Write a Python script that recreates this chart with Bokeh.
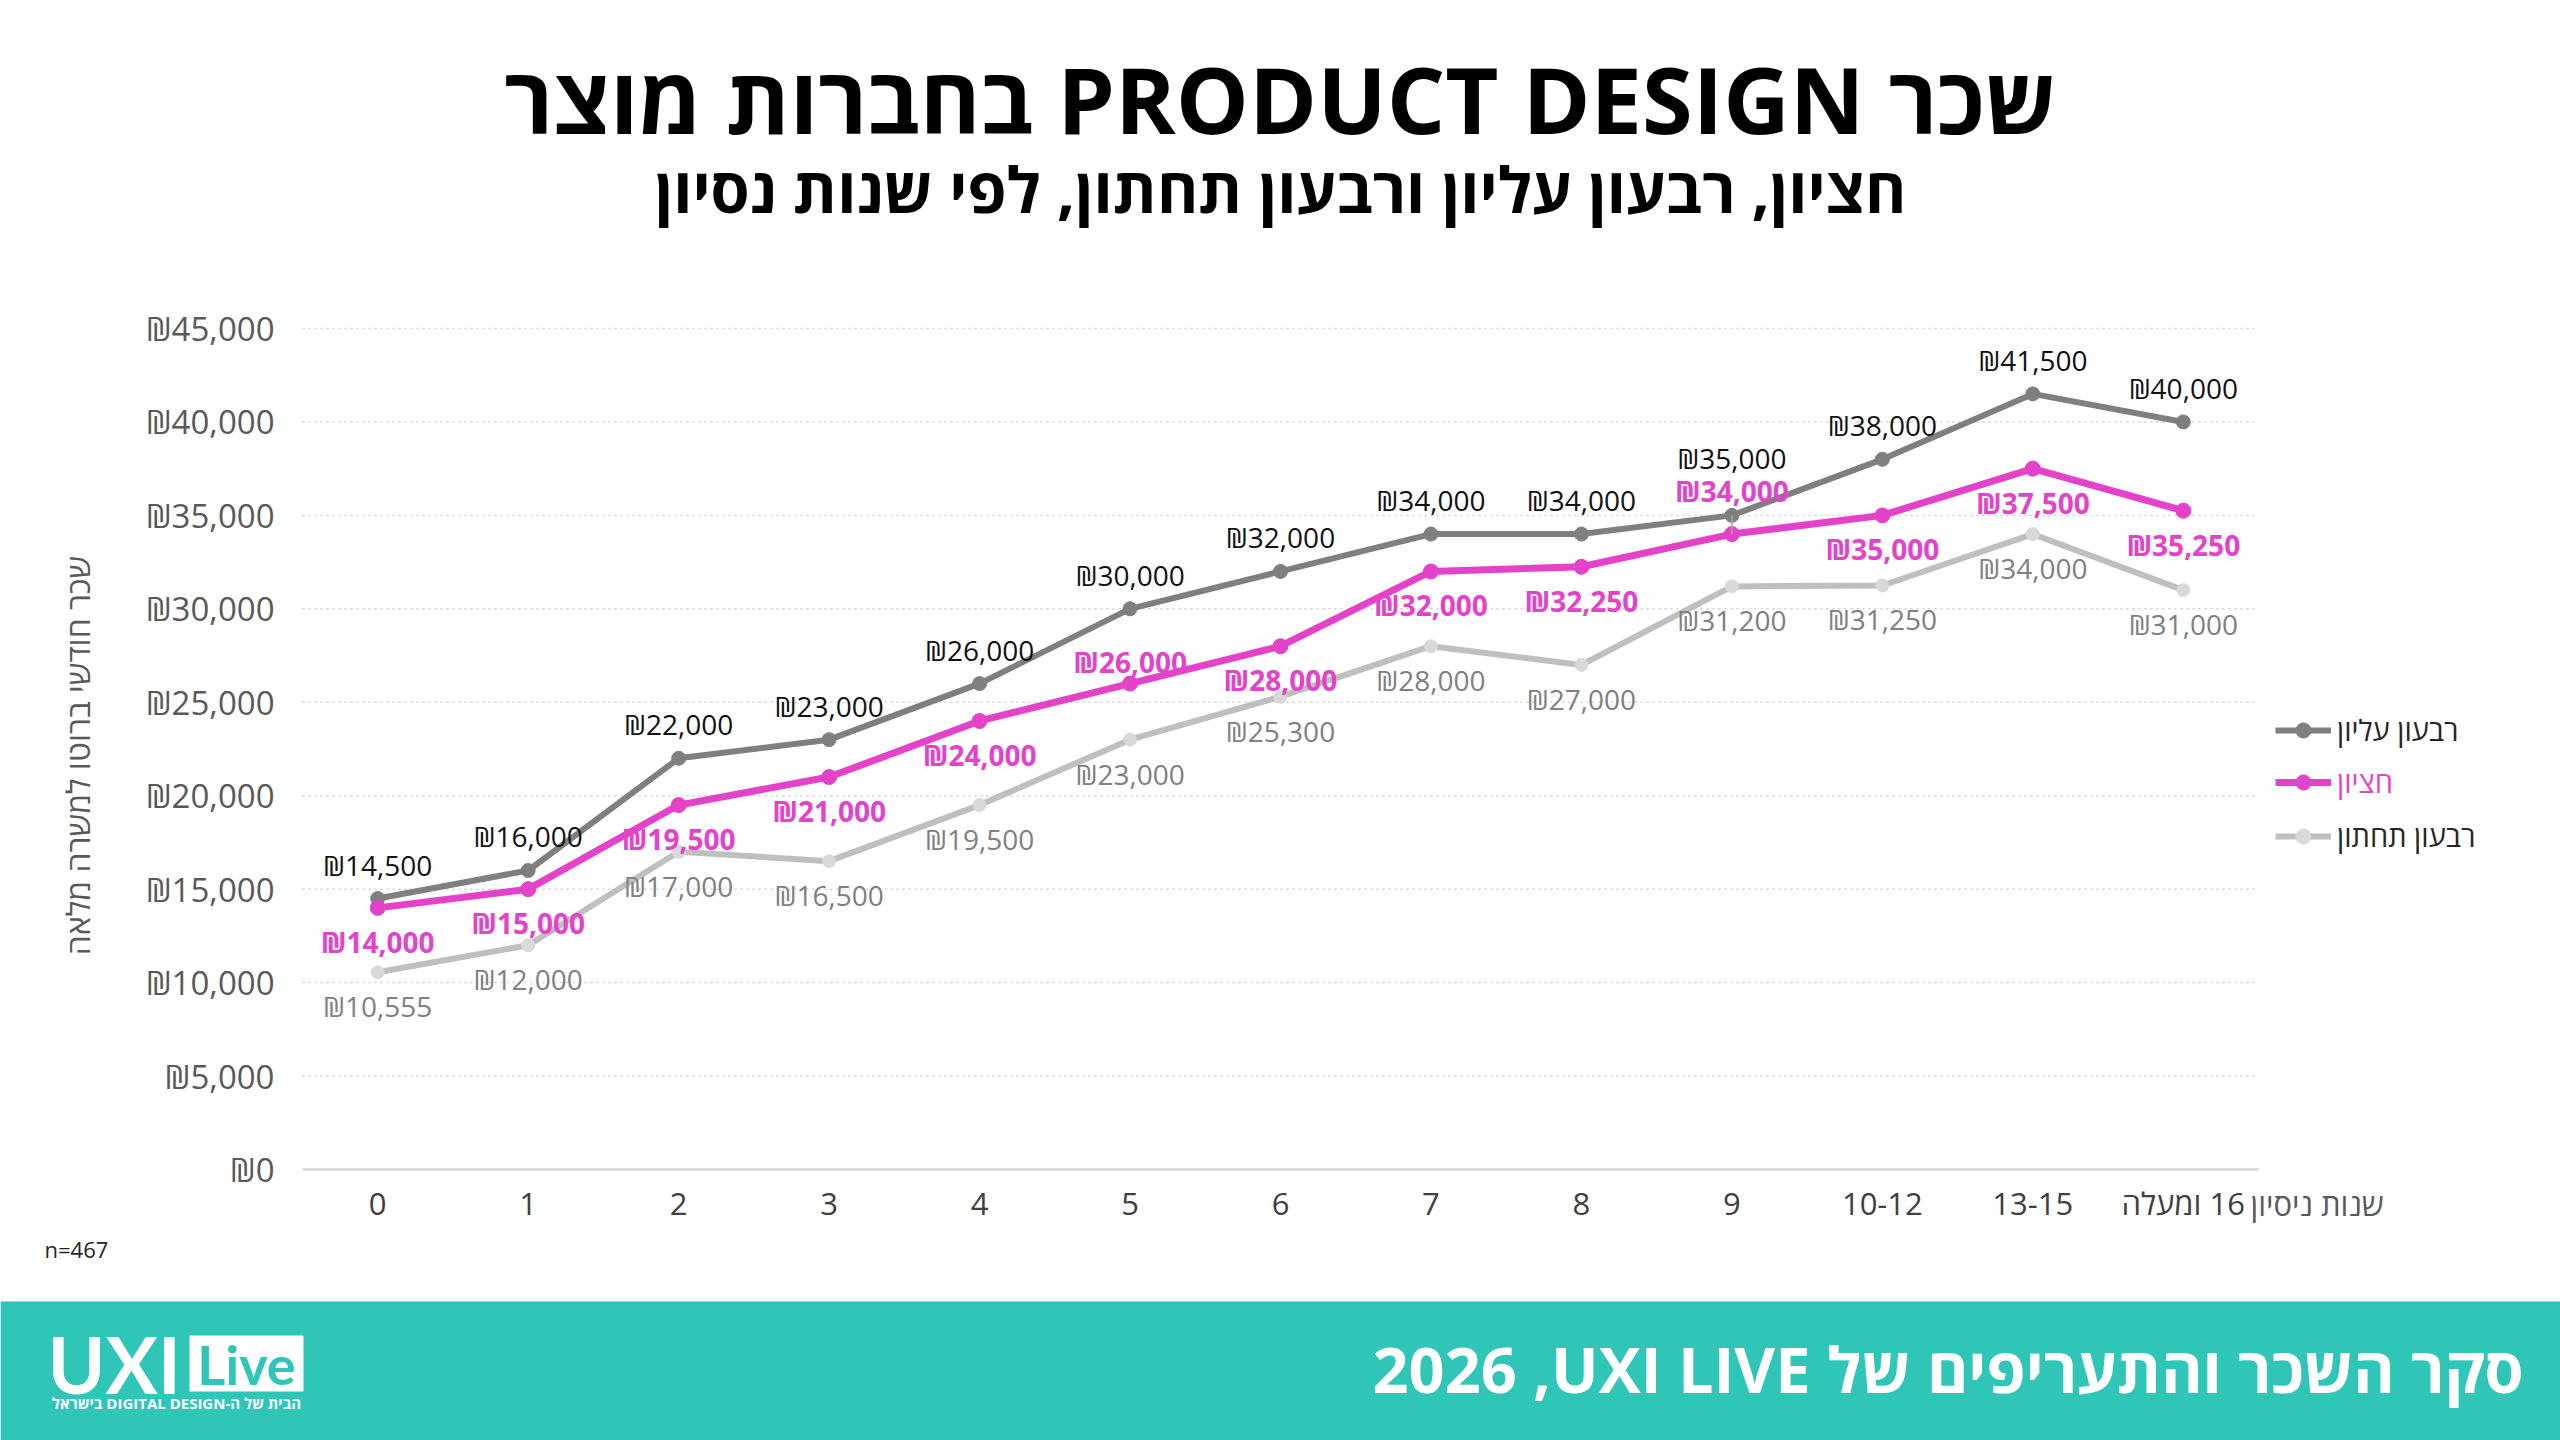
from bokeh.plotting import figure
from bokeh.models import (Range1d, FixedTicker, LinearAxis, LabelSet,
                          ColumnDataSource, Legend, LegendItem)
from bokeh.embed import file_html
from bokeh.resources import INLINE
from bokeh.core.properties import value

# ---------------- data ----------------
categories = ["0", "1", "2", "3", "4", "5", "6", "7", "8", "9", "10-12", "13-15", "16 ומעלה"]
upper_quartile = [14500, 16000, 22000, 23000, 26000, 30000, 32000, 34000, 34000, 35000, 38000, 41500, 40000]
median = [14000, 15000, 19500, 21000, 24000, 26000, 28000, 32000, 32250, 34000, 35000, 37500, 35250]
lower_quartile = [10555, 12000, 17000, 16500, 19500, 23000, 25300, 28000, 27000, 31200, 31250, 34000, 31000]
y_ticks = [0, 5000, 10000, 15000, 20000, 25000, 30000, 35000, 40000, 45000]
series_names = ["רבעון עליון", "חציון", "רבעון תחתון"]

title_text = "שכר PRODUCT DESIGN בחברות מוצר"
subtitle_text = "חציון, רבעון עליון ורבעון תחתון, לפי שנות נסיון"
y_title = "שכר חודשי ברוטו למשרה מלאה"
x_title = "שנות ניסיון"
n_text = "n=467"
footer_text = "סקר השכר והתעריפים של UXI LIVE, 2026"
logo_main = "UXI"
logo_box = "Live"
logo_sub = "הבית של ה-DIGITAL DESIGN בישראל"

RLE, PDF, RLM = "\u202b", "\u202c", "\u200f"
def rtl(s):
    return RLE + s + PDF

# ---------------- layout / styles ----------------
FONT = "Open Sans"
C_UP, C_MED, C_LOW, C_LOW_MK = "#7f7f7f", "#e442c9", "#bfbfbf", "#d9d9d9"
TEAL = "#2fc5b7"

W, H = 2560, 1440
CH_L, CH_R, CH_T, CH_B = 302, 2258, 328, 1169   # chart area in canvas pixels
Y_MAX = y_ticks[-1]
n = len(categories)
cat_w = (CH_R - CH_L) / n
x_start = -0.5 - CH_L / cat_w
x_end = n - 0.5 + (W - CH_R) / cat_w
y_per_px = Y_MAX / (CH_B - CH_T)
y_top = Y_MAX + CH_T * y_per_px
y_bottom = -(H - CH_B) * y_per_px

p = figure(width=W, height=H, x_range=Range1d(x_start, x_end), y_range=Range1d(y_bottom, y_top),
           output_backend="svg", toolbar_location=None, min_border=0,
           x_axis_type=None, y_axis_type=None,
           background_fill_color="white", border_fill_color="white")
p.outline_line_color = None
p.extra_x_ranges = {"px": Range1d(0, W)}
p.extra_y_ranges = {"px": Range1d(H, 0)}

xs = list(range(n))

# grid lines (dotted) across the chart area only
p.segment(x0=[-0.5] * (len(y_ticks) - 1), x1=[n - 0.5] * (len(y_ticks) - 1),
          y0=y_ticks[1:], y1=y_ticks[1:], line_color="#cfcfcf", line_width=1.5, line_dash="2 4")

# axes
yaxis = LinearAxis(ticker=FixedTicker(ticks=y_ticks), fixed_location=-0.5, bounds=(0, Y_MAX))
yaxis.major_label_overrides = {t: "₪{:,}".format(t) for t in y_ticks}
yaxis.axis_line_color = None
yaxis.major_tick_line_color = None
yaxis.minor_tick_line_color = None
yaxis.major_label_text_font = FONT
yaxis.major_label_text_font_size = "33px"
yaxis.major_label_text_color = "#595959"
yaxis.major_label_standoff = 22
p.add_layout(yaxis, "left")

xaxis = LinearAxis(ticker=FixedTicker(ticks=xs), fixed_location=0, bounds=(-0.5, n - 0.5))
xaxis.major_label_overrides = {i: (rtl(c) if " " in c else c) for i, c in enumerate(categories)}
xaxis.axis_line_color = "#d9d9d9"
xaxis.axis_line_width = 2.5
xaxis.major_tick_line_color = None
xaxis.minor_tick_line_color = None
xaxis.major_label_text_font = FONT
xaxis.major_label_text_font_size = "31px"
xaxis.major_label_text_color = "#404040"
xaxis.major_label_standoff = 6
p.add_layout(xaxis, "below")

src = ColumnDataSource(dict(
    x=xs, up=upper_quartile, med=median, low=lower_quartile,
    up_t=["₪{:,}".format(v) for v in upper_quartile],
    med_t=["₪{:,}".format(v) for v in median],
    low_t=["₪{:,}".format(v) for v in lower_quartile],
))

low_line = p.line("x", "low", source=src, line_color=C_LOW, line_width=6)
low_pts = p.scatter("x", "low", source=src, size=13, fill_color=C_LOW_MK, line_color=C_LOW_MK)
up_line = p.line("x", "up", source=src, line_color=C_UP, line_width=6)
up_pts = p.scatter("x", "up", source=src, size=14, fill_color=C_UP, line_color=C_UP)
med_line = p.line("x", "med", source=src, line_color=C_MED, line_width=7)
med_pts = p.scatter("x", "med", source=src, size=15, fill_color=C_MED, line_color=C_MED)

# data-label offsets (pixels, positive = up)
i9 = categories.index("9")
i5 = categories.index("5")
up_off = [34] * n; up_off[i9] = 57
med_off = [-34] * n; med_off[i5] = 22; med_off[i9] = 43
low_off = [-34] * n
src.data["up_off"] = up_off
src.data["med_off"] = med_off
src.data["low_off"] = low_off

# leader line for the moved median label at "9"
p.segment(x0=[i9], x1=[i9], y0=[median[i9]], y1=[upper_quartile[i9]],
          line_color="#a6a6a6", line_width=1.5)

for col, off, color, style in [("up", "up_off", "#111111", "normal"),
                               ("med", "med_off", C_MED, "bold"),
                               ("low", "low_off", "#808080", "normal")]:
    p.add_layout(LabelSet(x="x", y=col, text=col + "_t", source=src, y_offset=off,
                          text_align="center", text_baseline="middle",
                          text_font=value(FONT), text_font_size="28px",
                          text_color=color, text_font_style=style))

# legends (one per item so that each label has its own colour)
leg_specs = [(series_names[0], [up_line, up_pts], "#262626", 730),
             (series_names[1], [med_line, med_pts], C_MED, 782),
             (series_names[2], [low_line, low_pts], "#262626", 836)]
LEG_H = 38
for name, rends, tcol, cy in leg_specs:
    lg = Legend(items=[LegendItem(label=name, renderers=rends)],
                location=(2275, H - cy - LEG_H / 2),
                glyph_width=56, glyph_height=LEG_H, label_height=LEG_H, label_standoff=6,
                padding=0, margin=0, spacing=0, border_line_color=None, background_fill_alpha=0,
                label_text_font=FONT, label_text_font_size="29px", label_text_color=tcol,
                label_text_baseline="middle")
    p.add_layout(lg, "center")

def ptext(x, y, s, size, color, align="center", style="normal", font=FONT, angle=0.0):
    p.text(x=[x], y=[y], text=[s], x_range_name="px", y_range_name="px",
           text_align=align, text_baseline="middle", angle=angle,
           text_font=value(font), text_font_size=size, text_font_style=style, text_color=color)

# titles and axis titles
ptext(W / 2, 98, rtl(title_text), "92px", "#000000", style="bold")
ptext(W / 2, 188, rtl(subtitle_text), "63px", "#000000", style="bold")
ptext(77, 755, rtl(y_title), "32px", "#595959", angle=1.5708)
ptext(2250, 1203, rtl(x_title), "31px", "#595959", align="left")
ptext(44, 1248, n_text, "22px", "#262626", align="left")

# footer band
p.quad(left=[0], right=[W], top=[1301], bottom=[H], x_range_name="px", y_range_name="px",
       fill_color=TEAL, line_color=None)
ptext(2523, 1368, rtl(footer_text.replace(", 2026", RLM + ", 2026")), "63px", "white",
      align="right", style="bold")
ptext(47, 1363, logo_main, "78px", "white", align="left", style="bold", font="Lato")
p.quad(left=[189], right=[303], top=[1335], bottom=[1391], x_range_name="px", y_range_name="px",
       fill_color="white", line_color=None)
ptext(246, 1364, logo_box, "54px", TEAL, style="bold", font="Lato")
ptext(176, 1402, rtl(logo_sub), "15px", "white", style="bold")

open("out.html", "w").write(file_html(p, INLINE))
